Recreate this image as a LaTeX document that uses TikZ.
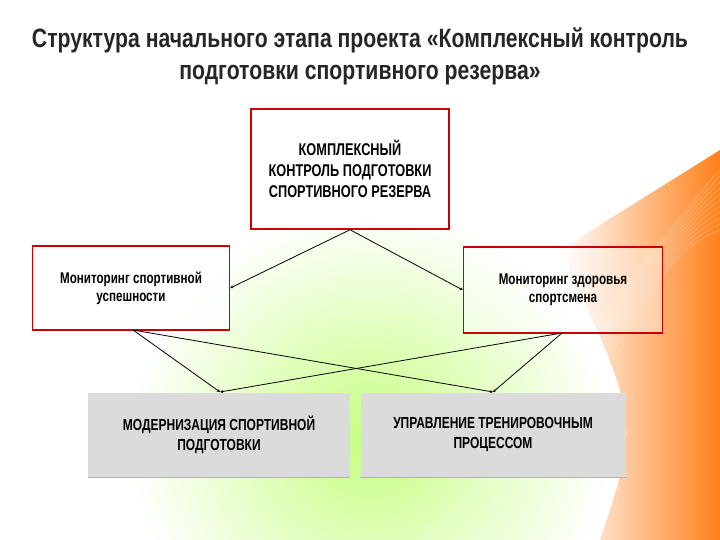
\documentclass[tikz,border=0pt]{standalone}
\usepackage{fontspec}
\setmainfont{Liberation Sans}
\usetikzlibrary{arrows.meta}
\begin{document}
\begin{tikzpicture}[x=1pt,y=-1pt,
  redbox/.style={draw=red!80!black,line width=1.5pt,fill=white,fill opacity=0.85,text opacity=1,align=center,font=\bfseries\fontsize{17}{21}\selectfont},
  graybox/.style={fill=gray!28,draw=none,align=center,font=\bfseries\fontsize{16}{20}\selectfont},
  conn/.style={line width=0.8pt,-{Stealth[length=3pt,width=3pt]}}]
\useasboundingbox (0,0) rectangle (720,540);
\fill[white] (0,0) rectangle (720,540);
\shade[inner color=green!45!yellow!70,outer color=white,opacity=0.7] (370,440) ellipse (240 and 230);
\fill[white,opacity=0.7] (0,0) rectangle (720,150);
\shade[left color=white,right color=orange!90!red,opacity=0.9] (560,250) -- (720,150) -- (720,540) -- (600,540) .. controls (640,420) .. (560,250);
\foreach \i in {0,6,...,60}{\draw[white,opacity=0.35,line width=0.6pt] (420+\i,540) .. controls (560+\i,380) and (640,260) .. (720,170+\i);}
\node[font=\bfseries\fontsize{26.5}{32}\selectfont,text=black!85,align=center,inner sep=0] (title) at (360,56) {\scalebox{0.8}[1]{Структура начального этапа проекта «Комплексный контроль}\\\scalebox{0.8}[1]{подготовки спортивного резерва»}};
\node[redbox,minimum width=198,minimum height=120] (top) at (350,169) {\scalebox{0.75}[1]{КОМПЛЕКСНЫЙ}\\\scalebox{0.75}[1]{КОНТРОЛЬ ПОДГОТОВКИ}\\\scalebox{0.75}[1]{СПОРТИВНОГО РЕЗЕРВА}};
\node[redbox,minimum width=197,minimum height=84,font=\bfseries\fontsize{15.5}{18}\selectfont] (left) at (131,288) {\scalebox{0.75}[1]{Мониторинг спортивной}\\\scalebox{0.75}[1]{успешности}};
\node[redbox,minimum width=199,minimum height=86,font=\bfseries\fontsize{15.5}{18}\selectfont,fill opacity=0.4] (right) at (563,290) {\scalebox{0.75}[1]{Мониторинг здоровья}\\\scalebox{0.75}[1]{спортсмена}};
\node[graybox,minimum width=262,minimum height=85] (b1) at (219,435) {\scalebox{0.75}[1]{МОДЕРНИЗАЦИЯ СПОРТИВНОЙ}\\\scalebox{0.75}[1]{ПОДГОТОВКИ}};
\node[graybox,minimum width=265,minimum height=85] (b2) at (493,435) {\scalebox{0.75}[1]{УПРАВЛЕНИЕ ТРЕНИРОВОЧНЫМ}\\\scalebox{0.75}[1]{ПРОЦЕССОМ}};
\draw[gray!60,line width=1.2pt] (b1.south west) -- (b1.south east) (b2.south west) -- (b2.south east);
\coordinate (ls) at (133,330); \coordinate (rs) at (562,333);
\coordinate (b1t) at (220,392); \coordinate (b2t) at (493,392);
\draw[conn] (top.south) -- (left.east);
\draw[conn] (top.south) -- (right.west);
\draw[conn] (ls) -- (b1t);
\draw[conn] (ls) -- (b2t);
\draw[conn] (rs) -- (b1t);
\draw[conn] (rs) -- (b2t);
\end{tikzpicture}
\end{document}
